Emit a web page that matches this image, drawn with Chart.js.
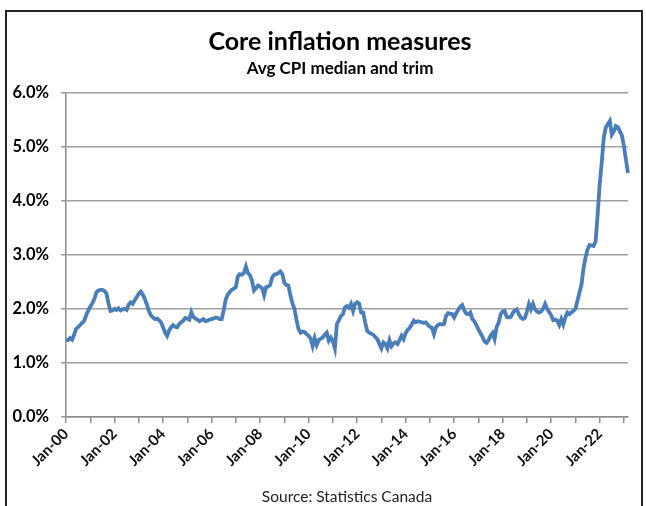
<!DOCTYPE html>
<html>
<head>
<meta charset="utf-8">
<script src="https://cdn.jsdelivr.net/npm/chart.js@4"></script>
<style>
  body { margin: 0; background: #fff; }
  #wrap { position: relative; width: 646px; height: 506px; }
  #frame {
    position: absolute; left: 5px; top: 10px; width: 634px; height: 520px;
    border-left: 2px solid #222; border-top: 2px solid #222; border-right: 2px solid #222;
    pointer-events: none;
  }
</style>
</head>
<body>
<div id="wrap">
  <canvas id="coreChart"></canvas>
  <div id="frame"></div>
</div>
<script>
// tick / category labels
const monthNames = ["Jan", "Feb", "Mar", "Apr", "May", "Jun", "Jul", "Aug", "Sep", "Oct", "Nov", "Dec"];
const firstYear = 2000;
const monthCount = 279; // Jan-00 .. Mar-23
const yTicks = [0, 1, 2, 3, 4, 5, 6];

// avg of CPI-median and CPI-trim, % y/y, monthly
const coreAvg = [
  1.43, 1.42, 1.46, 1.43, 1.52, 1.63, 1.66, 1.70, 1.74, 1.78, 1.88, 1.97, // 2000
  2.04, 2.10, 2.18, 2.30, 2.34, 2.35, 2.35, 2.33, 2.28, 2.10, 1.96, 1.97, // 2001
  2.00, 1.98, 2.01, 1.97, 1.99, 2.00, 1.98, 2.08, 2.12, 2.09, 2.16, 2.22, // 2002
  2.28, 2.32, 2.26, 2.18, 2.08, 1.96, 1.88, 1.84, 1.81, 1.82, 1.79, 1.75, // 2003
  1.66, 1.56, 1.50, 1.60, 1.66, 1.70, 1.67, 1.66, 1.72, 1.75, 1.78, 1.83, // 2004
  1.82, 1.80, 1.94, 1.85, 1.82, 1.80, 1.77, 1.79, 1.81, 1.77, 1.78, 1.80, // 2005
  1.81, 1.82, 1.84, 1.83, 1.81, 1.81, 1.97, 2.17, 2.26, 2.31, 2.35, 2.37, // 2006
  2.40, 2.60, 2.64, 2.63, 2.66, 2.78, 2.66, 2.62, 2.52, 2.34, 2.38, 2.43, // 2007
  2.41, 2.38, 2.25, 2.40, 2.41, 2.44, 2.58, 2.63, 2.64, 2.66, 2.69, 2.64, // 2008
  2.48, 2.44, 2.43, 2.25, 2.10, 2.00, 1.80, 1.63, 1.56, 1.58, 1.57, 1.53, // 2009
  1.50, 1.45, 1.31, 1.46, 1.33, 1.42, 1.45, 1.47, 1.52, 1.56, 1.41, 1.47, // 2010
  1.40, 1.27, 1.72, 1.79, 1.87, 1.90, 2.03, 2.05, 2.02, 2.09, 1.96, 2.09, // 2011
  2.12, 2.10, 1.93, 1.93, 1.75, 1.59, 1.56, 1.54, 1.52, 1.48, 1.44, 1.35, // 2012
  1.27, 1.38, 1.35, 1.27, 1.42, 1.31, 1.36, 1.38, 1.35, 1.42, 1.50, 1.44, // 2013
  1.55, 1.61, 1.65, 1.71, 1.78, 1.75, 1.77, 1.76, 1.75, 1.74, 1.75, 1.70, // 2014
  1.67, 1.65, 1.53, 1.66, 1.70, 1.72, 1.71, 1.72, 1.87, 1.92, 1.91, 1.90, // 2015
  1.84, 1.92, 1.98, 2.04, 2.07, 1.97, 1.91, 1.90, 1.93, 1.81, 1.77, 1.70, // 2016
  1.62, 1.55, 1.48, 1.40, 1.37, 1.42, 1.50, 1.55, 1.44, 1.66, 1.74, 1.90, // 2017
  1.95, 1.96, 1.85, 1.84, 1.85, 1.92, 1.97, 1.99, 1.90, 1.84, 1.81, 1.83, // 2018
  1.95, 2.09, 1.99, 2.09, 1.99, 1.95, 1.93, 1.95, 2.00, 2.09, 2.00, 1.94, // 2019
  1.88, 1.79, 1.80, 1.78, 1.70, 1.81, 1.71, 1.84, 1.93, 1.90, 1.93, 1.96, // 2020
  2.00, 2.15, 2.30, 2.45, 2.75, 2.95, 3.10, 3.18, 3.17, 3.16, 3.25, 3.75, // 2021
  4.30, 4.70, 5.16, 5.35, 5.41, 5.47, 5.22, 5.28, 5.38, 5.36, 5.28, 5.20, // 2022
  5.00, 4.75, 4.51                                                        // 2023
];

const labels = [];
for (let i = 0; i < monthCount; i++) {
  const yr = String((firstYear + Math.floor(i / 12)) % 100).padStart(2, "0");
  labels.push(monthNames[i % 12] + "-" + yr);
}

const fontFam = "Lato, 'Open Sans', sans-serif";

// titles in the original sit centred over the plot, not the whole frame
const shiftTitles = {
  id: "shiftTitles",
  afterLayout(chart) {
    chart.boxes.forEach((b) => {
      if (b.position === "top" && b.fullSize && b.options && typeof b.options.text === "string") {
        b.left += 44;
      }
    });
  }
};

new Chart(document.getElementById("coreChart"), {
  type: "line",
  data: {
    labels: labels,
    datasets: [{
      label: "Avg CPI median and trim",
      data: coreAvg,
      borderColor: "#4a7ebb",
      borderWidth: 3.8,
      pointRadius: 0,
      tension: 0,
      fill: false
    }]
  },
  plugins: [shiftTitles],
  options: {
    responsive: true,
    maintainAspectRatio: false,
    animation: false,
    layout: { padding: { left: 8, right: 18, top: 14, bottom: 0 } },
    plugins: {
      legend: { display: false },
      tooltip: { enabled: false },
      title: {
        display: true,
        text: "Core inflation measures",
        color: "#000",
        font: { family: fontFam, size: 25, weight: "bold" },
        padding: { top: 13, bottom: 1 }
      },
      subtitle: {
        display: true,
        text: "Avg CPI median and trim",
        color: "#000",
        font: { family: fontFam, size: 17, weight: "bold" },
        padding: { top: 0, bottom: 14 }
      }
    },
    scales: {
      x: {
        type: "category",
        offset: false,
        afterFit: (scale) => { scale.height = 89; },
        border: { display: true, color: "#8c8c8c", width: 1.5 },
        grid: {
          drawOnChartArea: false,
          drawTicks: true,
          tickLength: 6,
          lineWidth: 1.5,
          color: (ctx) => (ctx.index % 12 === 0 ? "#8c8c8c" : "rgba(0,0,0,0)")
        },
        ticks: {
          autoSkip: false,
          minRotation: 45,
          maxRotation: 45,
          padding: 2,
          color: "#111",
          font: { family: fontFam, size: 15, weight: "bold" },
          callback: function (val, idx) { return idx % 24 === 0 ? this.getLabelForValue(val) : ""; }
        },
        title: {
          display: true,
          text: "Source: Statistics Canada",
          color: "#222",
          font: { family: fontFam, size: 15.5 },
          padding: { top: 0, bottom: 0 }
        }
      },
      y: {
        min: yTicks[0],
        max: yTicks[yTicks.length - 1],
        afterFit: (scale) => { scale.width = 58; },
        afterBuildTicks: (scale) => { scale.ticks = yTicks.map(v => ({ value: v })); },
        border: { display: true, color: "#8c8c8c", width: 1.5 },
        grid: {
          color: "#a0a0a0",
          lineWidth: 1.6,
          tickLength: 5
        },
        ticks: {
          padding: 12,
          color: "#000",
          font: { family: fontFam, size: 16.5, weight: "bold" },
          callback: (v) => v.toFixed(1) + "%"
        }
      }
    }
  }
});
</script>
</body>
</html>
